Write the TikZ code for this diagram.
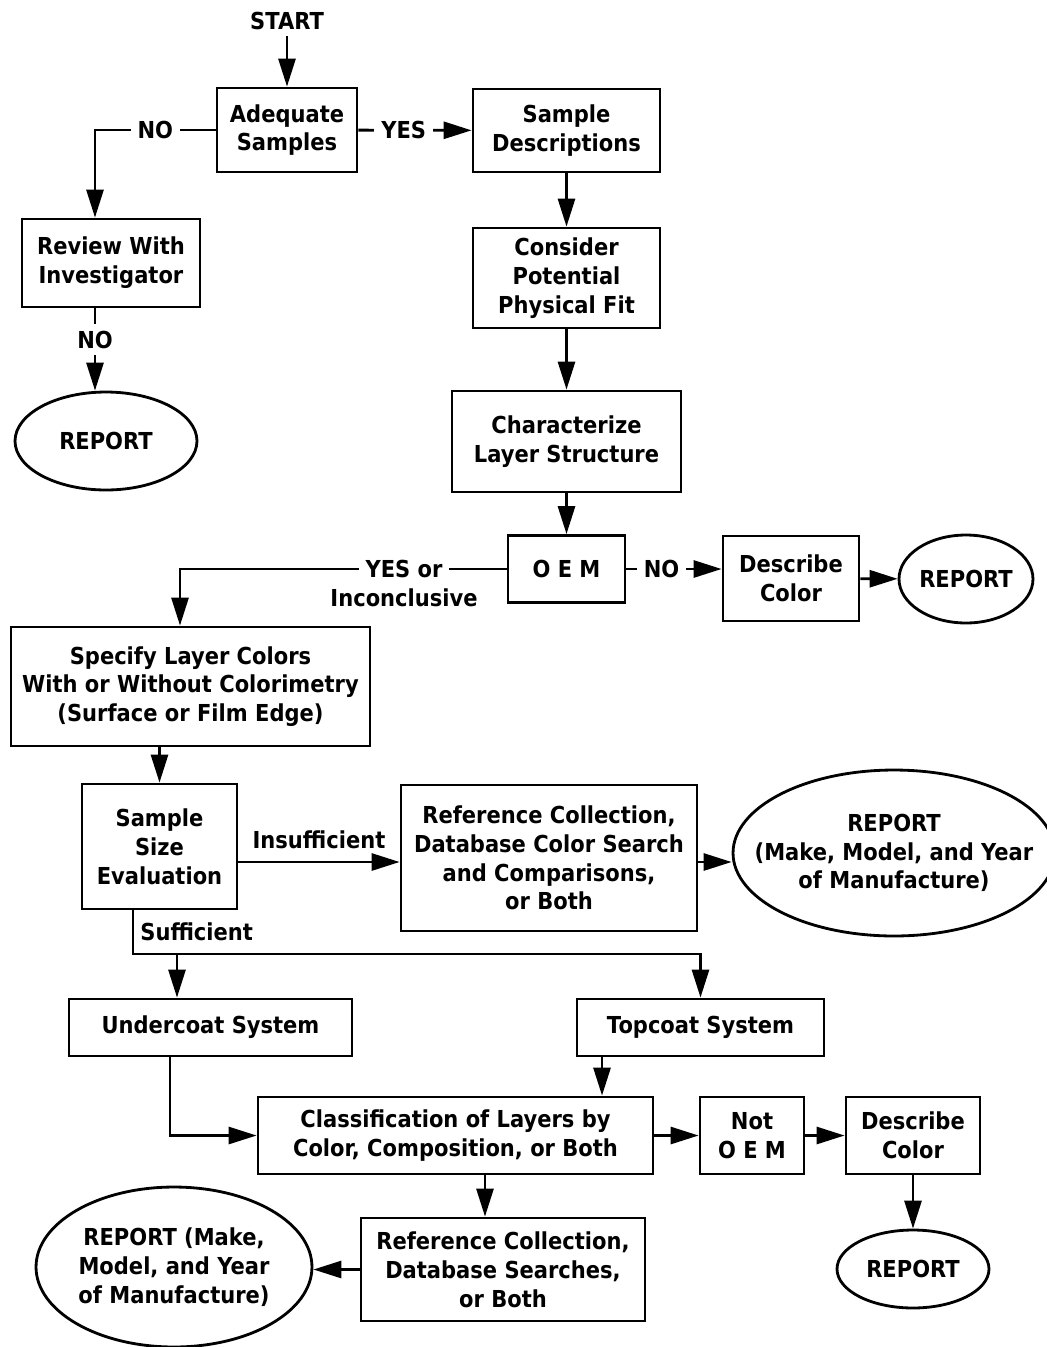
\documentclass[tikz,border=0pt]{standalone}
\usepackage{fontspec}
\setmainfont{DejaVu Sans}[FakeStretch=0.9]
\usetikzlibrary{arrows.meta,shapes.geometric}
\newcommand\flowfont{\bfseries\fontsize{13.3pt}{16.4pt}\selectfont}
\tikzset{
  box/.style={draw, line width=1.6pt, align=center, inner sep=0pt, font=\flowfont},
  oval/.style={draw, ellipse, line width=1.6pt, align=center, inner sep=0pt, font=\flowfont},
  conn/.style={line width=1.6pt},
  arr/.style={line width=1.6pt, -{Triangle[length=0.56cm, width=0.34cm]}},
  lbl/.style={fill=white, inner sep=0.14cm, font=\flowfont},
  txt/.style={inner sep=0pt, font=\flowfont}
}

\begin{document}
\begin{tikzpicture}[x=0.02cm, y=-0.02cm]
			%%%%% START %%%%%
			\useasboundingbox (0,0) rectangle (1047,1347);

			% top part
			\node[font=\flowfont] (start) at (287,21) {START};
			\node[box, minimum width=2.8cm, minimum height=1.68cm] (adeq) at (287,130) {Adequate\\Samples};
			\node[box, minimum width=3.74cm, minimum height=1.66cm] (sdesc) at (566.5,130.5) {Sample\\Descriptions};
			\node[box, minimum width=3.56cm, minimum height=1.76cm] (review) at (111,263) {Review With\\Investigator};
			\node[oval, minimum width=3.64cm, minimum height=1.96cm] (rep1) at (106,441) {REPORT};
			\node[box, minimum width=3.74cm, minimum height=2cm] (phys) at (566.5,278) {Consider\\Potential\\Physical Fit};
			\node[box, minimum width=4.58cm, minimum height=2.02cm] (layer) at (566.5,441.5) {Characterize\\Layer Structure};
			\node[box, minimum width=2.34cm, minimum height=1.34cm] (oem) at (566.5,569) {O E M};
			\node[box, minimum width=2.72cm, minimum height=1.7cm] (desc1) at (791,578.5) {Describe\\Color};
			\node[oval, minimum width=2.68cm, minimum height=1.76cm] (rep2) at (966,579) {REPORT};

			% middle part
			\node[box, minimum width=7.18cm, minimum height=2.38cm] (spec) at (190.5,686.5) {Specify Layer Colors\\With or Without Colorimetry\\(Surface or Film Edge)};
			\node[box, minimum width=3.1cm, minimum height=2.5cm] (size) at (159.5,846.5) {Sample\\Size\\Evaluation};
			\node[box, minimum width=5.92cm, minimum height=2.92cm] (refc) at (549,858) {Reference Collection,\\Database Color Search\\and Comparisons,\\or Both};
			\node[oval, inner xsep=-0.53cm, minimum width=6.44cm, minimum height=3.32cm] (rep3) at (894,853) {REPORT\\(Make, Model, and Year\\of Manufacture)};
			\node[box, minimum width=5.66cm, minimum height=1.14cm] (under) at (210.5,1027.5) {Undercoat System};
			\node[box, minimum width=4.94cm, minimum height=1.14cm] (top) at (700.5,1027.5) {Topcoat System};

			% bottom part
			\node[box, minimum width=7.9cm, minimum height=1.54cm] (cls) at (455.5,1135.5) {Classification of Layers by\\Color, Composition, or Both};
			\node[box, minimum width=2.08cm, minimum height=1.54cm] (notoem) at (752,1135.5) {Not\\O E M};
			\node[box, minimum width=2.68cm, minimum height=1.54cm] (desc2) at (913,1135.5) {Describe\\Color};
			\node[oval, minimum width=3.04cm, minimum height=1.56cm] (rep4) at (913,1269) {REPORT};
			\node[box, minimum width=5.68cm, minimum height=2.06cm] (refs) at (503,1269.5) {Reference Collection,\\Database Searches,\\or Both};
			\node[oval, minimum width=5.52cm, minimum height=3.2cm] (rep5) at (174,1267) {REPORT (Make,\\Model, and Year\\of Manufacture)};

			% corners
			\coordinate (cno) at (95,130);
			\coordinate (cyes) at (180,569);
			\coordinate (csuf) at (133,954);
			\coordinate (cund) at (177,954);
			\coordinate (ccls) at (170,1135.5);

			% connectors
			\draw[arr] (start) -- (adeq);
			\draw[arr] (adeq) -- node[lbl, pos=0.4] (lyes) {YES} (sdesc);
			\draw[arr] (adeq) -- node[lbl] (lno) {NO} (cno) -- (cno |- review.north);
			\draw[arr] (review.south -| cno) -- node[lbl, pos=0.38] (lno2) {NO} (rep1.north -| cno);
			\draw[arr] (sdesc) -- (phys);
			\draw[arr] (phys) -- (layer);
			\draw[arr] (layer) -- (oem);
			\draw[arr] (oem) -- node[lbl, pos=0.37] (lno3) {NO} (oem.east -| desc1.west);
			\draw[arr] (desc1) -- (rep2);
			\draw[arr] (oem) -- node[lbl, pos=0.314] (lyesor) {YES or} (cyes) -- (cyes |- spec.north);
			\node[txt] (linc) at (404,598) {Inconclusive};

			\draw[arr] (spec.south -| size) -- (size);
			\draw[arr] ([yshift=-0.31cm]size.east) -- node[txt, above=0.24cm] (lins) {Insufficient} ([yshift=-0.31cm]size.east -| refc.west);
			\draw[arr] ([yshift=-0.08cm]refc.east) -- ([yshift=-0.08cm]refc.east -| rep3.west);
			\draw[arr] (size.south -| csuf) -- node[txt, right=0.12cm] (lsuf) {Sufficient} (csuf) -- (csuf -| top) -- (top);
			\draw[arr] (cund) -- (cund |- under.north);

			\draw[arr] (under.south -| ccls) -- (ccls) -- (cls);
			\draw[arr] ([xshift=-1.97cm]top.south) -- ([xshift=-1.97cm]top.south |- cls.north);
			\draw[arr] (cls) -- (notoem);
			\draw[arr] (notoem) -- (desc2);
			\draw[arr] (desc2) -- (rep4);
			\draw[arr] ([xshift=0.59cm]cls.south) -- ([xshift=0.59cm]cls.south |- refs.north);
			\draw[arr] (refs.west) -- (refs.west -| rep5.east);
			%%%%% END %%%%%
\end{tikzpicture}
\end{document}
